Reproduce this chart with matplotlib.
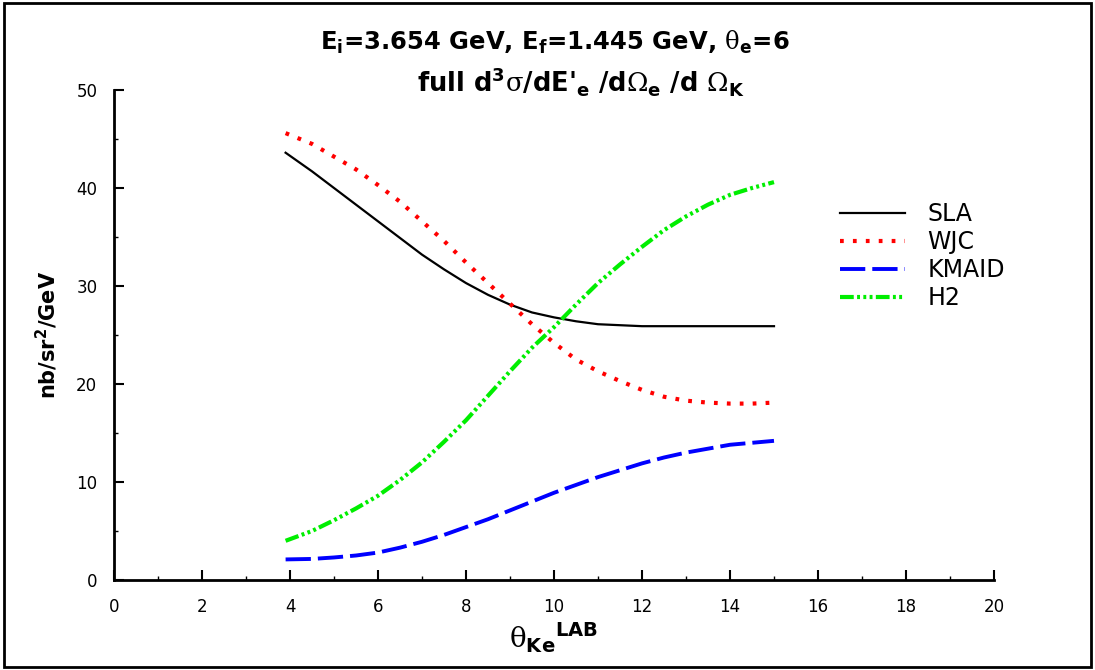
import matplotlib
matplotlib.use('Agg')
import matplotlib.pyplot as plt
from matplotlib.patches import Rectangle

# Angles (deg) at which the curves were read
theta = [3.9, 4.5, 5, 5.5, 6, 6.5, 7, 7.5, 8, 8.5, 9, 9.5, 10, 10.5, 11,
         11.5, 12, 12.5, 13, 13.5, 14, 14.5, 15]

sla = [43.6, 41.7, 40.0, 38.3, 36.6, 34.9, 33.2, 31.7, 30.3, 29.1, 28.1, 27.3,
       26.8, 26.4, 26.1, 26.0, 25.9, 25.9, 25.9, 25.9, 25.9, 25.9, 25.9]
wjc = [45.6, 44.5, 43.2, 41.9, 40.3, 38.6, 36.6, 34.6, 32.4, 30.3, 28.2, 26.1,
       24.2, 22.5, 21.3, 20.3, 19.4, 18.7, 18.3, 18.1, 18.0, 18.0, 18.1]
kmaid = [2.1, 2.15, 2.3, 2.5, 2.8, 3.3, 3.9, 4.6, 5.4, 6.2, 7.1, 8.0,
         8.9, 9.7, 10.5, 11.2, 11.9, 12.5, 13.0, 13.4, 13.8, 14.0, 14.2]
h2 = [4.0, 5.0, 6.1, 7.3, 8.6, 10.2, 12.0, 14.1, 16.3, 18.8, 21.3, 23.7,
      25.8, 28.1, 30.3, 32.2, 34.0, 35.7, 37.1, 38.3, 39.3, 40.0, 40.6]

x_ticks = list(range(0, 21, 2))
y_ticks = list(range(0, 51, 10))

plt.rcParams['font.family'] = ['DejaVu Sans']
plt.rcParams['mathtext.fontset'] = 'custom'
plt.rcParams['mathtext.rm'] = 'DejaVu Sans:bold'
plt.rcParams['mathtext.bf'] = 'DejaVu Sans:bold'
plt.rcParams['mathtext.it'] = 'DejaVu Sans:bold'
plt.rcParams['mathtext.sf'] = 'DejaVu Serif'

fig = plt.figure(figsize=(10.95, 6.70), dpi=100)
ax = fig.add_axes([114/1095, 1 - 580/670, 880/1095, 490/670])

ax.plot(theta, sla, color='black', lw=1.6, label='SLA')
ax.plot(theta, wjc, color='red', lw=3.0, dashes=(0.9, 2.2), label='WJC')
ax.plot(theta, kmaid, color='blue', lw=2.8, dashes=(6.5, 1.8), label='KMAID')
ax.plot(theta, h2, color='#00ee00', lw=3.0,
        dashes=(3.3, 0.8, 0.7, 0.8, 0.7, 0.8, 0.7, 0.8), label='H2')

ax.set_xlim(0, 20)
ax.set_ylim(0, 50)
ax.set_xticks(x_ticks)
ax.set_yticks(y_ticks)
ax.set_xticks(range(0, 21), minor=True)
ax.set_yticks(range(0, 51, 5), minor=True)
for side in ['top', 'right']:
    ax.spines[side].set_visible(False)
for side in ['left', 'bottom']:
    ax.spines[side].set_linewidth(2)
ax.tick_params(which='major', direction='in', length=7, width=1.5, labelsize=12, pad=13)
ax.tick_params(which='minor', direction='in', length=3, width=1)
ax.tick_params(axis='y', which='major', pad=12)

ax.set_ylabel('nb/sr$^\\mathrm{2}$/GeV', fontsize=15, fontweight='bold', labelpad=12)
ax.set_xlabel('$\\mathsf{\\theta}_\\mathrm{Ke}{}^\\mathrm{LAB}$', fontsize=20, labelpad=3)

fig.text(555/1095, 1 - 42/670, 'E$_\\mathrm{i}$=3.654 GeV, E$_\\mathrm{f}$=1.445 GeV, '
         '$\\mathsf{\\theta}_\\mathrm{e}$=6',
         ha='center', va='center', fontsize=17.5, fontweight='bold')
fig.text(581/1095, 1 - 81/670, "full d$^\\mathrm{3}\\mathsf{\\sigma}$/dE'$_\\mathrm{e}$ "
         "/d$\\mathsf{\\Omega}_\\mathrm{e}$ /d $\\mathsf{\\Omega}_\\mathrm{K}$",
         ha='center', va='center', fontsize=18.5, fontweight='bold')

ax.legend(loc='upper left', bbox_to_anchor=(840/1095, 1 - 202/670),
          bbox_transform=fig.transFigure, frameon=False, fontsize=17,
          handlelength=2.75, handletextpad=0.95, labelspacing=0.17,
          borderpad=0, borderaxespad=0)

fig.patches.append(Rectangle((4/1095, 3/670), 1087/1095, 664/670,
                             transform=fig.transFigure, fill=False,
                             edgecolor='black', lw=2))

fig.savefig('out.png', dpi=100)
